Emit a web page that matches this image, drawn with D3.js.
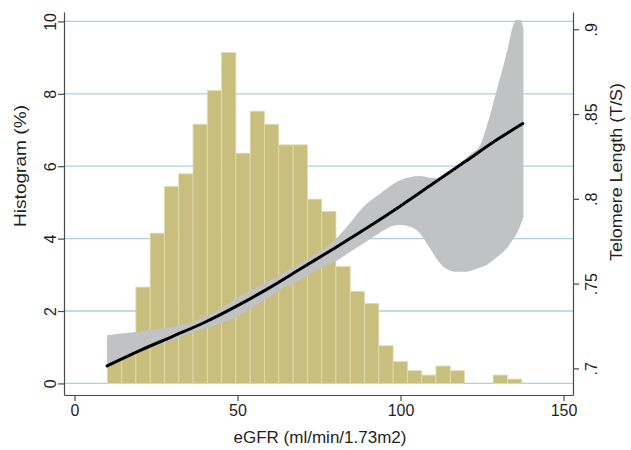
<!DOCTYPE html>
<html>
<head>
<meta charset="utf-8">
<script src="https://cdn.jsdelivr.net/npm/d3@7"></script>
<style>
  html, body { margin: 0; padding: 0; background: #ffffff; }
  svg { display: block; font-family: "Liberation Sans", Arial, Helvetica, sans-serif; }
</style>
</head>
<body>
<svg id="chart" width="631" height="450"></svg>
<script>
// ---------------- data ----------------
const xTicks = [0, 50, 100, 150];
const leftTicks = [0, 2, 4, 6, 8, 10];
const rightTicks = [0.7, 0.75, 0.8, 0.85, 0.9];
const rightTickLabels = [".7", ".75", ".8", ".85", ".9"];

// histogram: bins start at eGFR 10.06, width 4.383
const histStart = 10.06;
const binWidth = 4.383;
const histPct = [1.2, 1.3, 2.66, 4.15, 5.44, 5.79, 7.16, 8.09, 9.14, 6.36,
                 7.52, 7.16, 6.59, 6.59, 5.09, 4.75, 3.23, 2.54, 2.21, 1.04,
                 0.60, 0.35, 0.23, 0.48, 0.35, 0, 0, 0.23, 0.12];

// fitted telomere length line
const fitX = [10, 20, 30, 40, 50, 60, 70, 80, 90, 100, 110, 120, 130, 137.5];
const fitY = [0.7015, 0.7105, 0.7188, 0.7272, 0.737, 0.7478, 0.7595, 0.7712,
              0.7832, 0.7958, 0.809, 0.8222, 0.8354, 0.8444];

// confidence band
const bandX = [10, 16, 23.5, 30, 36.4, 43, 49.8, 56, 62.8, 69.2, 73.3, 79.9, 84,
               88.6, 93.7, 96.8, 99.8, 102.9, 106, 109, 112.1, 114.2, 117.2,
               120.3, 122.3, 124.4, 126.4, 129.5, 132.6, 134.6, 135.5, 136.8, 137.7];
const bandUpper = [0.7196, 0.7208, 0.7226, 0.7245, 0.7275, 0.7335, 0.7413, 0.748,
                   0.755, 0.762, 0.7668, 0.7757, 0.7845, 0.7953, 0.803, 0.8075,
                   0.811, 0.8128, 0.8135, 0.8125, 0.8122, 0.8152, 0.8195, 0.8245,
                   0.8275, 0.8315, 0.8425, 0.864, 0.8865, 0.9025, 0.9055, 0.9055, 0.9];
const bandLower = [0.7008, 0.7065, 0.7125, 0.7168, 0.7215, 0.7255, 0.7305, 0.7375,
                   0.746, 0.7521, 0.757, 0.7629, 0.768, 0.7737, 0.78, 0.7835,
                   0.7845, 0.7835, 0.7796, 0.7708, 0.762, 0.7585, 0.757, 0.757,
                   0.758, 0.7595, 0.761, 0.7655, 0.7708, 0.7765, 0.779, 0.7845, 0.7894];

// ---------------- layout ----------------
const svg = d3.select("#chart");
const L = 64, R = 573, T = 12, B = 395;

const x = d3.scaleLinear().domain([-3.22, 152.9]).range([L, R]);
const yL = d3.scaleLinear().domain([-0.32, 10.26]).range([B, T]);
const yR = d3.scaleLinear().domain([0.6843, 0.9102]).range([B, T]);

const axisColor = "#4a4a4a";
const textColor = "#1f1f1f";

// gridlines
svg.append("g").selectAll("line").data(leftTicks).join("line")
  .attr("x1", L).attr("x2", R)
  .attr("y1", d => yL(d)).attr("y2", d => yL(d))
  .attr("stroke", "#a9d2dd").attr("stroke-width", 1.3);

// histogram bars
svg.append("g").selectAll("rect").data(histPct).join("rect")
  .attr("x", (d, i) => x(histStart + i * binWidth))
  .attr("width", (d, i) => x(histStart + (i + 1) * binWidth) - x(histStart + i * binWidth))
  .attr("y", d => yL(d))
  .attr("height", d => yL(0) - yL(d))
  .attr("fill", "#c8be7d")
  .attr("stroke", "#e2dcae")
  .attr("stroke-width", d => d > 0 ? 0.8 : 0);

// confidence band
const bandData = bandX.map((v, i) => ({x: v, lo: bandLower[i], hi: bandUpper[i]}));
svg.append("path").datum(bandData)
  .attr("d", d3.area().x(d => x(d.x)).y0(d => yR(d.lo)).y1(d => yR(d.hi)).curve(d3.curveMonotoneX))
  .attr("fill", "#c1c2c4");

// fitted line
const fitData = fitX.map((v, i) => ({x: v, y: fitY[i]}));
svg.append("path").datum(fitData)
  .attr("d", d3.line().x(d => x(d.x)).y(d => yR(d.y)).curve(d3.curveMonotoneX))
  .attr("fill", "none").attr("stroke", "#000").attr("stroke-width", 3)
  .attr("stroke-linecap", "round");

// ---------------- axes ----------------
function styleAxis(g) {
  g.select(".domain").attr("stroke", axisColor).attr("stroke-width", 1.2);
  g.selectAll(".tick line").attr("stroke", axisColor).attr("stroke-width", 1.2);
  g.selectAll(".tick text").attr("fill", textColor).style("font-size", "16px")
    .style("font-family", '"Liberation Sans", Arial, Helvetica, sans-serif');
}

// bottom
const gx = svg.append("g").attr("transform", `translate(0,${B})`)
  .call(d3.axisBottom(x).tickValues(xTicks).tickSize(6).tickSizeOuter(0).tickFormat(d3.format("d")));
styleAxis(gx);
gx.selectAll(".tick text").attr("y", 10).attr("dy", "0.71em");

// left
const gl = svg.append("g").attr("transform", `translate(${L},0)`)
  .call(d3.axisLeft(yL).tickValues(leftTicks).tickSize(6).tickSizeOuter(0).tickFormat(d3.format("d")));
styleAxis(gl);
gl.selectAll(".tick text")
  .attr("x", 0).attr("y", -8).attr("dy", 0)
  .attr("text-anchor", "middle")
  .attr("transform", "rotate(-90)");

// right
const gr = svg.append("g").attr("transform", `translate(${R},0)`)
  .call(d3.axisRight(yR).tickValues(rightTicks).tickSize(6).tickSizeOuter(0)
    .tickFormat((d, i) => rightTickLabels[i]));
styleAxis(gr);
gr.selectAll(".tick text")
  .attr("x", 0).attr("y", 24).attr("dy", 0)
  .attr("text-anchor", "middle")
  .attr("transform", "rotate(-90)");

// titles
svg.append("text")
  .attr("x", 320).attr("y", 443)
  .attr("text-anchor", "middle").attr("fill", textColor).style("font-size", "17px")
  .text("eGFR (ml/min/1.73m2)");

svg.append("text")
  .attr("transform", "translate(26,166) rotate(-90)")
  .attr("text-anchor", "middle").attr("fill", textColor).style("font-size", "17px")
  .attr("textLength", 122).attr("lengthAdjust", "spacingAndGlyphs")
  .text("Histogram (%)");

svg.append("text")
  .attr("transform", "translate(622,172) rotate(-90)")
  .attr("text-anchor", "middle").attr("fill", textColor).style("font-size", "17px")
  .attr("textLength", 178).attr("lengthAdjust", "spacingAndGlyphs")
  .text("Telomere Length (T/S)");
</script>
</body>
</html>
